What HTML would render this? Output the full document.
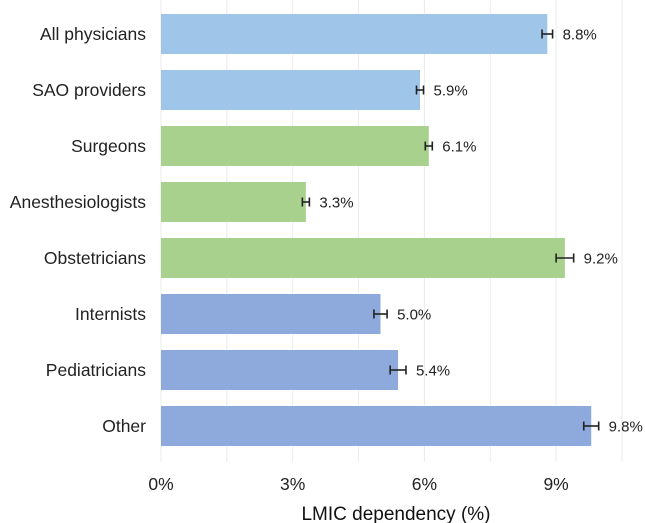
<!DOCTYPE html>
<html><head><meta charset="utf-8"><style>
body{margin:0;background:#fff;}
svg{display:block;font-family:"Liberation Sans",Arial,sans-serif;}
</style></head><body>
<svg id="chart" width="645" height="523" viewBox="0 0 645 523" xmlns="http://www.w3.org/2000/svg"></svg>
<script>
const categories=["All physicians","SAO providers","Surgeons","Anesthesiologists","Obstetricians","Internists","Pediatricians","Other"];
const values=[8.8,5.9,6.1,3.3,9.2,5.0,5.4,9.8];
const errors=[0.12,0.08,0.08,0.08,0.2,0.15,0.18,0.17];
const valueLabels=["8.8%","5.9%","6.1%","3.3%","9.2%","5.0%","5.4%","9.8%"];
const groups=["all","all","sao","sao","sao","other","other","other"];
const ticks=[0,3,6,9];
const tickLabels=["0%","3%","6%","9%"];
const minorTicks=[1.5,4.5,7.5,10.5];
const colors={all:"#9fc5e8",sao:"#a9d18e",other:"#8eaadc"};
const svg=document.getElementById('chart');
const NS="http://www.w3.org/2000/svg";
const x0=161,pxPer=43.9,top0=14,pitch=56,barH=40;
const X=v=>x0+v*pxPer;
const Y=i=>top0+i*pitch;
function mk(t,a){const e=document.createElementNS(NS,t);for(const k in a)e.setAttribute(k,a[k]);svg.appendChild(e);return e;}
minorTicks.concat(ticks).forEach(t=>{
 const l=mk('line',{x1:X(t),x2:X(t),y1:0,y2:462,stroke:"#ebebeb","stroke-width":1});
 
 
});
ticks.forEach((t,i)=>{
 const tx=mk('text',{x:X(t),y:490,"text-anchor":"middle","font-size":17.5,fill:"#222"});
 tx.textContent=tickLabels[i];
 
 
});
const at=mk('text',{x:396,y:520,"text-anchor":"middle","font-size":19,fill:"#111"});
at.textContent="LMIC dependency (%)";


categories.forEach((c,i)=>{
 const y=Y(i);
 const r=mk('rect',{x:X(0),y:y,width:X(values[i])-X(0),height:barH,fill:colors[groups[i]]});
 
 
 const cy=y+barH/2;
 const a=X(values[i]-errors[i]),b=X(values[i]+errors[i]);
 const g=document.createElementNS(NS,'g');svg.appendChild(g);
 
 
 [[a,cy,b,cy],[a,cy-4.5,a,cy+4.5],[b,cy-4.5,b,cy+4.5]].forEach(p=>{const l=document.createElementNS(NS,'line');l.setAttribute('x1',p[0]);l.setAttribute('y1',p[1]);l.setAttribute('x2',p[2]);l.setAttribute('y2',p[3]);l.setAttribute('stroke','#222');l.setAttribute('stroke-width','1.6');g.appendChild(l);});
 const vl=mk('text',{x:b+10,y:cy+5.5,"font-size":15,fill:"#222"});
 vl.textContent=valueLabels[i];
 
 
 const cl=mk('text',{x:146,y:cy+6,"text-anchor":"end","font-size":17.5,fill:"#222"});
 cl.textContent=c;
 
 
});
</script>
</body></html>
